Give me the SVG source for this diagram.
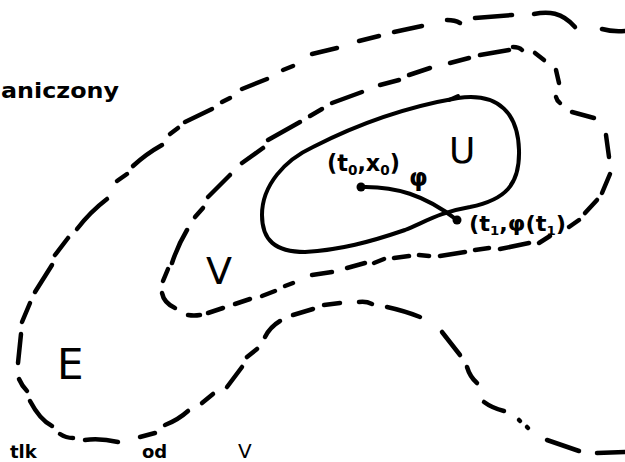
<svg xmlns="http://www.w3.org/2000/svg" width="625" height="462" viewBox="0 0 625 462">
<style>
.d{fill:none;stroke:#000;stroke-width:4.5;stroke-linecap:round;stroke-linejoin:round}
.s{fill:none;stroke:#000;stroke-width:4;stroke-linecap:round;stroke-linejoin:round}
.t{font-family:"DejaVu Sans",sans-serif;fill:#000}
.b{font-family:"DejaVu Sans",sans-serif;font-weight:bold;fill:#000}
</style>
<rect width="625" height="462" fill="#fff"/>
<g id="region-E" class="d">
<path d="M602,29 Q612,32 625,31"/>
<path d="M534,14 C548,11 562,12 575,27"/>
<path d="M475,18 L512,15"/>
<path d="M447,20 Q455,20 460,23"/>
<path d="M394,32 L422,26"/>
<path d="M359,41 L379,36"/>
<path d="M312,54 L337,48"/>
<path d="M283,70 L293,66"/>
<path d="M242,89 L267,79"/>
<path d="M222,102 L230,98"/>
<path d="M185,122 L212,109"/>
<path d="M170,134 L178,128"/>
<path d="M133,166 Q146,154 162,145"/>
<path d="M117,181 L127,174"/>
<path d="M77,229 Q90,212 107,199"/>
<path d="M55,255 L68,238"/>
<path d="M35,292 L52,265"/>
<path d="M22,322 L30,303"/>
<path d="M18,363 L21,334"/>
<path d="M19,379 Q22,386 27,391"/>
<path d="M30,401 Q40,420 52,426"/>
<path d="M60,434 Q66,438 73,438"/>
<path d="M85,440 Q100,438 118,442"/>
<path d="M140,437 L155,433"/>
<path d="M165,425 Q178,420 188,411"/>
<path d="M202,403 L213,394"/>
<path d="M227,387 L242,367"/>
<path d="M247,357 L257,349"/>
<path d="M265,337 Q270,327 280,321"/>
<path d="M293,315 L313,309"/>
<path d="M324,305 L340,303"/>
<path d="M359,302 Q366,301 372,304"/>
<path d="M387,307 Q405,311 420,317"/>
<path d="M442,332 L460,355"/>
<path d="M467,367 Q470,377 477,383"/>
<path d="M484,402 Q492,408 504,411"/>
<path d="M519,420 L520,421"/>
<path d="M527,427 L528,428"/>
<path d="M547,440 L579,451"/>
<path d="M597,453 L625,452"/>
</g>
<g id="region-V" class="d">
<path d="M480,55 L509,50"/>
<path d="M513,47 Q519,47 522,50"/>
<path d="M535,53 L544,60"/>
<path d="M556,70 L559,83"/>
<path d="M556,97 Q557,101 560,103"/>
<path d="M572,112 L594,118"/>
<path d="M606,135 L609,157"/>
<path d="M610,174 L602,193"/>
<path d="M597,200 L585,213"/>
<path d="M579,220 L569,227"/>
<path d="M550,236 L539,243"/>
<path d="M529,243 L500,249"/>
<path d="M489,248 L475,250"/>
<path d="M465,252 L440,256"/>
<path d="M429,256 L419,255"/>
<path d="M409,256 L394,258"/>
<path d="M384,259 L374,263"/>
<path d="M365,263 L347,268"/>
<path d="M332,272 L312,275"/>
<path d="M293,283 L285,286"/>
<path d="M275,291 L262,296"/>
<path d="M250,299 L235,304"/>
<path d="M223,308 L208,313"/>
<path d="M200,315 Q194,316 188,315"/>
<path d="M175,308 Q164,303 162,293"/>
<path d="M163,281 L168,269"/>
<path d="M172,263 Q178,245 187,230"/>
<path d="M195,217 L203,208"/>
<path d="M208,197 L230,175"/>
<path d="M242,163 L263,148"/>
<path d="M268,140 L300,122"/>
<path d="M310,116 L322,109"/>
<path d="M332,103 L362,92"/>
<path d="M380,85 L399,80"/>
<path d="M409,75 L430,68"/>
<path d="M450,63 L469,58"/>
</g>
<g id="region-U" class="s">
<path d="M458,98 C500,92 518,115 519,150 C520,185 505,200 470,207 C440,212 425,222 405,230 C370,242 340,250 305,252 C275,252 262,240 262,215 C262,185 285,160 313,147 C350,128 400,108 458,98 Z"/>
<path d="M449,100 L458,96"/>
</g>
<g id="connectors">
<path id="curve-phi" class="s" d="M361,187 C395,186 425,195 457,220"/>
<circle cx="361" cy="187" r="4.5"/>
<circle cx="457" cy="220" r="4.5"/>
</g>
<g id="labels">
<text class="t" x="449" y="163" font-size="36">U</text>
<text class="t" x="206" y="284" font-size="38">V</text>
<text class="t" x="57" y="379" font-size="42">E</text>
<text class="b" x="409" y="186" font-size="24">φ</text>
<text class="b" x="327" y="171" font-size="23" textLength="73" lengthAdjust="spacingAndGlyphs">(t<tspan font-size="14" dy="4">0</tspan><tspan dy="-4">,x</tspan><tspan font-size="14" dy="4">0</tspan><tspan dy="-4">)</tspan></text>
<text class="b" x="469" y="231" font-size="22" textLength="97" lengthAdjust="spacingAndGlyphs">(t<tspan font-size="13" dy="4">1</tspan><tspan dy="-4">,φ(t</tspan><tspan font-size="13" dy="4">1</tspan><tspan dy="-4">)</tspan></text>
<text class="b" x="1" y="98" font-size="22" textLength="118" lengthAdjust="spacingAndGlyphs">aniczony</text>
<text class="b" x="10" y="458" font-size="18">tlk</text>
<text class="b" x="142" y="458" font-size="18">od</text>
<text class="t" x="238" y="458" font-size="20">V</text>
</g>
</svg>
